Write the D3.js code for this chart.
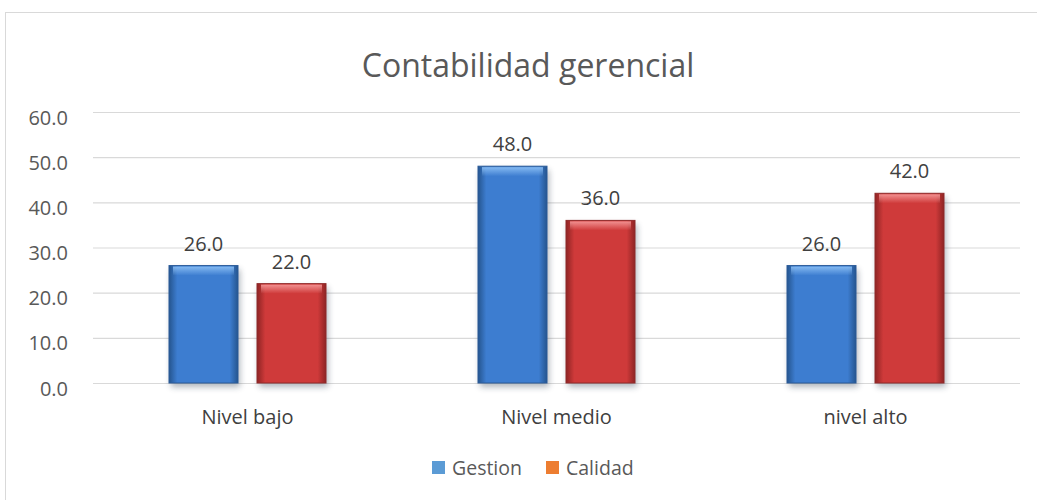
<!DOCTYPE html>
<html><head><meta charset="utf-8">
<script src="https://cdn.jsdelivr.net/npm/d3@7"></script>
<style>body{margin:0;background:#fff;font-family:"Open Sans",sans-serif}</style>
</head><body>
<svg id="c" width="1037" height="500"></svg>
<script>
const categories = ["Nivel bajo", "Nivel medio", "nivel alto"];
const seriesNames = ["Gestion", "Calidad"];
const gestion = [26.0, 48.0, 26.0];
const calidad = [22.0, 36.0, 42.0];
const yTicks = [0, 10, 20, 30, 40, 50, 60];
const legendColors = ["#5b9bd5", "#ed7d31"];

const svg = d3.select("#c");
const font = "'Open Sans', sans-serif";
const defs = svg.append("defs");

function grad(id, edge, mid, light) {
  const g = defs.append("linearGradient").attr("id", id).attr("x1", 0).attr("x2", 1).attr("y1", 0).attr("y2", 0);
  g.append("stop").attr("offset", "0%").attr("stop-color", edge);
  g.append("stop").attr("offset", "12%").attr("stop-color", mid);
  g.append("stop").attr("offset", "88%").attr("stop-color", mid);
  g.append("stop").attr("offset", "100%").attr("stop-color", edge);
  const t = defs.append("linearGradient").attr("id", id + "t").attr("x1", 0).attr("x2", 0).attr("y1", 0).attr("y2", 1);
  t.append("stop").attr("offset", "0%").attr("stop-color", light).attr("stop-opacity", 0.9);
  t.append("stop").attr("offset", "100%").attr("stop-color", light).attr("stop-opacity", 0);
}
grad("gb", "#25558f", "#3d7dd0", "#8cc0f5");
grad("gr", "#8e2424", "#cf3a3a", "#f59a9a");
const blur = defs.append("filter").attr("id", "sh").attr("x", "-20%").attr("y", "-20%").attr("width", "140%").attr("height", "140%");
blur.append("feGaussianBlur").attr("stdDeviation", 3);

// outer border
svg.append("rect").attr("x", 5.5).attr("y", 12.5).attr("width", 1040).attr("height", 500)
  .attr("fill", "none").attr("stroke", "#d9d9d9").attr("stroke-width", 1);

svg.append("text").attr("x", 528).attr("y", 77).attr("text-anchor", "middle")
  .attr("font-family", font).attr("font-size", 32).attr("fill", "#595959").text("Contabilidad gerencial");

const x0 = d3.scaleBand().domain(categories).range([93, 1020]);
const x1 = d3.scaleBand().domain(seriesNames).range([76, 233]).paddingInner(0.216).paddingOuter(0);
const y = d3.scaleLinear().domain([0, 60]).range([383, 112]);

const yAxis = svg.append("g").attr("transform", "translate(93,0)")
  .call(d3.axisLeft(y).tickValues(yTicks).tickFormat(d3.format(".1f")).tickSize(-927).tickPadding(25));
yAxis.select(".domain").remove();
yAxis.selectAll("line").attr("stroke", "#d9d9d9").attr("stroke-width", 1.2);
yAxis.selectAll("text").attr("font-family", font).attr("font-size", 20).attr("fill", "#595959")
  .attr("dy", "0.6em");

const xAxis = svg.append("g").attr("transform", "translate(0,383)")
  .call(d3.axisBottom(x0).tickSize(0).tickPadding(27));
xAxis.select(".domain").remove();
xAxis.selectAll("text").attr("font-family", font).attr("font-size", 20).attr("fill", "#404040");

const data = categories.map((c, i) => ({ c, vals: [gestion[i], calidad[i]] }));
const groups = svg.append("g").selectAll("g").data(data).join("g")
  .attr("transform", d => `translate(${x0(d.c)},0)`);

const bars = groups.selectAll("g").data(d => d.vals.map((v, j) => ({ v, s: seriesNames[j], j }))).join("g");
bars.append("rect").attr("x", d => x1(d.s) + 2).attr("y", d => y(d.v) + 4)
  .attr("width", x1.bandwidth()).attr("height", d => y(0) - y(d.v))
  .attr("fill", "#1a2a40").attr("opacity", 0.35).attr("filter", "url(#sh)");
bars.append("rect").attr("x", d => x1(d.s)).attr("y", d => y(d.v))
  .attr("width", x1.bandwidth()).attr("height", d => y(0) - y(d.v))
  .attr("fill", d => d.j === 0 ? "url(#gb)" : "url(#gr)")
  .attr("stroke", d => d.j === 0 ? "#2a5a98" : "#8f2a2a").attr("stroke-width", 1);
bars.append("rect").attr("x", d => x1(d.s) + 4).attr("y", d => y(d.v) + 1)
  .attr("width", x1.bandwidth() - 8).attr("height", 9)
  .attr("fill", d => d.j === 0 ? "url(#gbt)" : "url(#grt)");
bars.append("text").attr("x", d => x1(d.s) + x1.bandwidth() / 2).attr("y", d => y(d.v) - 15)
  .attr("text-anchor", "middle").attr("font-family", font).attr("font-size", 20).attr("fill", "#404040")
  .text(d => d3.format(".1f")(d.v));

// legend
const lg = svg.append("g");
const lx = [432, 546];
seriesNames.forEach((s, i) => {
  lg.append("rect").attr("x", lx[i]).attr("y", 461).attr("width", 13).attr("height", 13).attr("fill", legendColors[i]);
  lg.append("text").attr("x", lx[i] + 20).attr("y", 475).attr("font-family", font).attr("font-size", 19.5)
    .attr("fill", "#595959").text(s);
});
</script>
</body></html>
